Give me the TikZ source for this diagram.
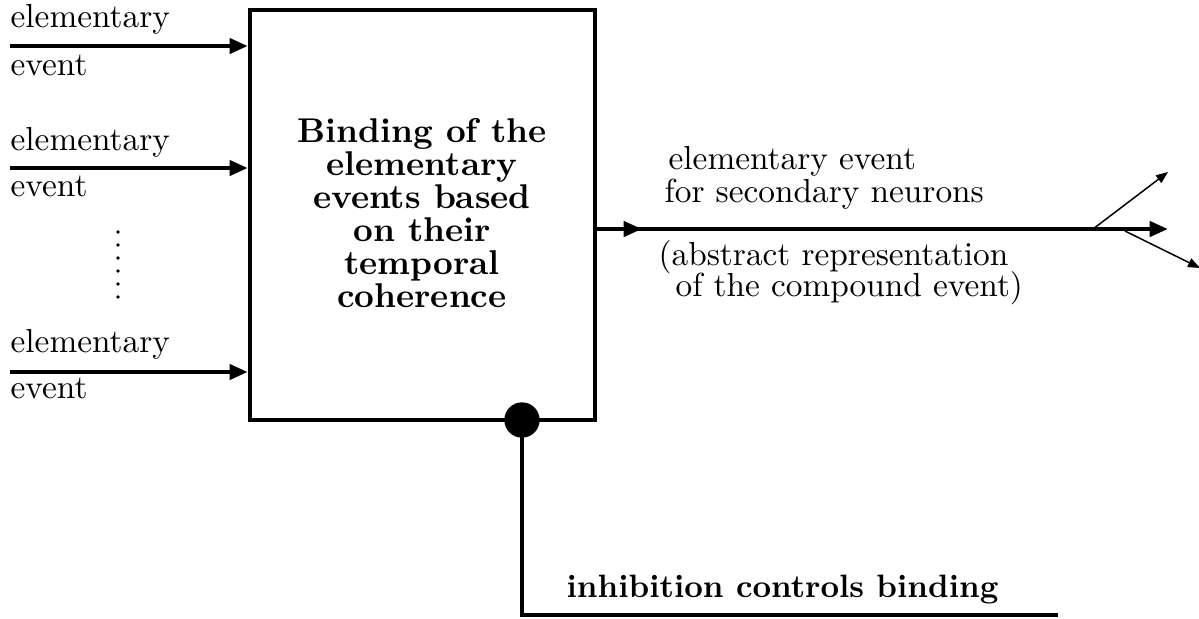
\documentclass[tikz,border=0pt]{standalone}
\usetikzlibrary{arrows.meta,decorations.markings}
\begin{document}
\begin{tikzpicture}[x=0.3pt,y=-0.3pt,
  thick line/.style={line width=1.3pt},
  thin line/.style={line width=0.45pt},
  bigtip/.style={-{Triangle[length=5.5pt,width=4.5pt]}},
  smalltip/.style={-{Triangle[length=3.6pt,width=2.8pt]}},
  lbl/.style={inner sep=0pt,anchor=base west,font=\fontsize{10}{10}\selectfont},
  bold/.style={inner sep=0pt,align=center,font=\fontsize{10.3}{9.9}\selectfont\bfseries}]
\useasboundingbox (0,0) rectangle (1199,618);
% box
\node[draw,thick line,minimum width=345*0.3pt,minimum height=410*0.3pt,inner sep=0pt] (box) at (422.5,215) {};
\node[bold,anchor=base] (title) at (422,307) {Binding of the\\elementary\\events based\\on their\\temporal\\coherence};
% inputs
\coordinate (s1) at (10,46);
\coordinate (s2) at (10,168);
\coordinate (s3) at (10,372);
\draw[thick line,bigtip] (s1) -- (s1 -| box.west);
\draw[thick line,bigtip] (s2) -- (s2 -| box.west);
\draw[thick line,bigtip] (s3) -- (s3 -| box.west);
\node[lbl] (l1a) at (10,27) {elementary};
\node[lbl] (l1b) at (10,75) {event};
\node[lbl] (l2a) at (10,150) {elementary};
\node[lbl] (l2b) at (10,196) {event};
\node[lbl] (l3a) at (10,352) {elementary};
\node[lbl] (l3b) at (10,398) {event};
% dots
\foreach \y in {232,245,258,271,284,297} \fill (118,\y) circle (0.55pt);
% output
\coordinate (oS) at (box.east |- 0,229);
\coordinate (oE) at (1168,229);
\draw[thick line,bigtip] (oS) -- (oE);
\draw[thick line,bigtip] (oS) -- (642,229);
\coordinate (b1) at (1093,229);
\coordinate (b1e) at (1168,172);
\coordinate (b2) at (1125,231);
\coordinate (b2e) at (1200,268);
\draw[thin line,smalltip] (b1) -- (b1e);
\draw[thin line,smalltip] (b2) -- (b2e);
\node[lbl] (o1) at (668,169) {elementary event};
\node[lbl] (o2) at (664,202) {for secondary neurons};
\node[lbl] (o3) at (658,265) {(abstract representation};
\node[lbl] (o4) at (675,296) {of the compound event)};
% inhibition
\fill (522,420) circle (5.3pt) coordinate (inh);
\coordinate (c1) at (522,615);
\coordinate (c2) at (1058,615);
\draw[thick line] (inh) -- (c1) -- (c2);
\node[lbl,font=\fontsize{9.7}{10}\selectfont\bfseries] (inht) at (566,597) {inhibition controls binding};
\end{tikzpicture}
\end{document}
